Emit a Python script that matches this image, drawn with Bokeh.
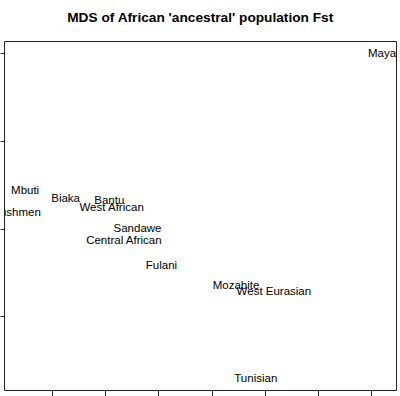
from bokeh.plotting import figure
from bokeh.models import FixedTicker, ColumnDataSource, Range1d
from bokeh.core.properties import value
from bokeh.embed import file_html
from bokeh.resources import INLINE

populations = ["Maya", "Mbuti", "Bushmen", "Biaka", "Bantu", "West African",
               "Sandawe", "Central African", "Fulani", "Mozabite",
               "West Eurasian", "Tunisian"]
dim1 = [0.0319, -0.0351, -0.0367, -0.0275, -0.0193, -0.0188,
        -0.0140, -0.0165, -0.0095, 0.0045, 0.0116, 0.0082]
dim2 = [0.0200, 0.0045, 0.0020, 0.0035, 0.0033, 0.0025,
        0.0001, -0.0012, -0.0041, -0.0064, -0.0071, -0.0170]
x_ticks = [-0.03, -0.02, -0.01, 0.0, 0.01, 0.02, 0.03]
y_ticks = [-0.01, 0.0, 0.01, 0.02]

src = ColumnDataSource(dict(x=dim1, y=dim2, name=populations))

p = figure(width=400, height=406, output_backend="svg", toolbar_location=None,
           title="MDS of African 'ancestral' population Fst",
           x_range=Range1d(-0.03897, 0.03462), y_range=Range1d(-0.01838, 0.02136),
           min_border_left=0, min_border_right=4, min_border_top=40, min_border_bottom=0)
p.styles = {"margin-left": "0px", "margin-top": "-10px"}

p.title.align = "center"
p.title.text_font = "Liberation Sans"
p.title.text_font_size = "13.7px"
p.title.text_font_style = "bold"
p.title.text_color = "black"
p.title.standoff = 34

p.grid.visible = False
p.outline_line_color = "#222222"
p.outline_line_width = 1
p.background_fill_color = "white"
p.border_fill_color = "white"

for ax, ticks in ((p.xaxis[0], x_ticks), (p.yaxis[0], y_ticks)):
    ax.axis_line_color = None
    ax.major_tick_in = 0
    ax.minor_tick_line_color = None
    ax.major_label_overrides = {t: "" for t in ticks}
    ax.major_label_standoff = 0
    ax.major_tick_line_color = "#222222"
    ax.ticker = FixedTicker(ticks=ticks)
p.xaxis[0].major_tick_out = 6
p.yaxis[0].major_tick_out = 4

p.text(x="x", y="y", text="name", source=src, text_align="center",
       text_baseline="middle", text_font=value("Liberation Sans"),
       text_font_size="11.5px", text_color="black")

open("out.html", "w").write(file_html(p, INLINE))
